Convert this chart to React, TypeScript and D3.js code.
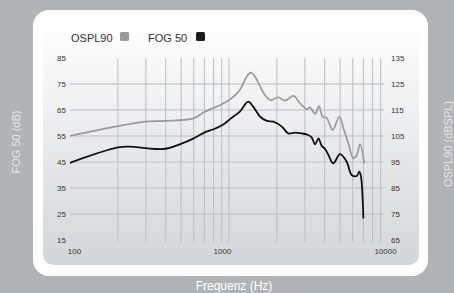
import React from 'react';
import * as d3 from 'd3';

// OSPL90 (right axis, dBSPL)
const osplFreq = [100, 200, 300, 400, 600, 700, 900, 1000, 1170, 1290, 1370, 1460, 1570, 1680, 1830, 2040, 2250, 2540, 2800, 3080, 3230, 3480, 3680, 3880, 4110, 4490, 4940, 5290, 5630, 6050, 6360, 6670, 7100];
const osplValues = [105, 108.8, 110.5, 110.8, 111.8, 114.2, 117.2, 118.8, 122.7, 127.8, 129.4, 127.8, 124, 120.8, 118.8, 119.9, 118.6, 120.4, 117.6, 115.3, 116, 113.5, 116.5, 112.4, 112, 107.3, 112.4, 107.3, 102.2, 96.4, 97.7, 101.8, 94.5];

// FOG 50 (left axis, dB)
const fogFreq = [100, 200, 240, 300, 400, 490, 600, 720, 800, 920, 1015, 1170, 1320, 1420, 1570, 1730, 1900, 2150, 2360, 2600, 2870, 3150, 3310, 3480, 3650, 3830, 4020, 4220, 4530, 4990, 5500, 5910, 6360, 6600, 6760, 7000];
const fogValues = [44.7, 50.6, 50.9, 50.3, 50.1, 51.8, 54.1, 56.7, 57.6, 59.4, 61.5, 64.4, 68.2, 66.3, 62.4, 60.8, 60.5, 58.6, 56, 56.3, 56, 55.4, 54.5, 51.8, 54.1, 51.2, 50, 47.7, 44.5, 48, 45.1, 40, 39.6, 41.3, 39.4, 23.3];

const leftTicks = [15, 25, 35, 45, 55, 65, 75, 85];
const rightTicks = [65, 75, 85, 95, 105, 115, 125, 135];
const freqLabels = [100, 1000, 10000];
const gridFreqs = [200, 300, 400, 500, 600, 700, 800, 900, 1000, 2000, 3000, 4000, 5000, 6000, 7000, 8000, 9000];
const hGridValues = [25, 35, 45, 55, 65, 75];

const font = '"Liberation Sans", Arial, Helvetica, sans-serif';

export default function App() {
  const W = 454, H = 293;
  const x = d3.scaleLog().domain([100, 10000]).range([70, 388]);
  const yL = d3.scaleLinear().domain([15, 85]).range([240, 58]);
  const yR = d3.scaleLinear().domain([65, 135]).range([240, 58]);

  const osplLine = d3.line<number>()
    .x((d, i) => x(osplFreq[i]))
    .y(d => yR(d))
    .curve(d3.curveCatmullRom.alpha(0.5));
  const fogLine = d3.line<number>()
    .x((d, i) => x(fogFreq[i]))
    .y(d => yL(d))
    .curve(d3.curveCatmullRom.alpha(0.5));

  return (
    <svg width={W} height={H} style={{ position: 'absolute', left: 0, top: 0 }} fontFamily={font}>
      <defs>
        <linearGradient id="panel" x1="0" y1="0" x2="0" y2="1">
          <stop offset="0" stopColor="#ffffff" />
          <stop offset="1" stopColor="#d4d5d8" />
        </linearGradient>
      </defs>
      <rect width={W} height={H} fill="#b2b3b6" />
      <rect x={33} y={10} width={395} height={266} rx={16} fill="#ffffff" />
      <rect x={43} y={20} width={376} height={245} rx={10} fill="url(#panel)" />

      {/* legend */}
      <text x={71} y={42} fontSize={11} fill="#333">OSPL90</text>
      <rect x={120} y={32} width={9} height={9} rx={1.5} fill="#9a9a9a" />
      <text x={148} y={42} fontSize={11} fill="#333">FOG 50</text>
      <rect x={196} y={32} width={9} height={9} rx={1.5} fill="#1a1a1a" />

      {/* grid */}
      <g stroke="#bcbdc0" strokeWidth={1}>
        {hGridValues.map(v => (
          <line key={'h' + v} x1={x(100)} x2={x(10000) - 4} y1={yL(v)} y2={yL(v)} />
        ))}
        {gridFreqs.map(f => (
          <line key={'v' + f} x1={x(f)} x2={x(f)} y1={yL(85)} y2={yL(15) + 2} />
        ))}
      </g>

      {/* axes labels */}
      <g fontSize={8} fill="#333">
        {leftTicks.map(v => (
          <text key={'l' + v} x={66} y={yL(v) + 3} textAnchor="end">{v}</text>
        ))}
        {rightTicks.map(v => (
          <text key={'r' + v} x={391} y={yR(v) + 3}>{v}</text>
        ))}
        {freqLabels.map((f, i) => (
          <text key={'f' + f} x={x(f) + (i === 0 ? 4.5 : i === 1 ? -6.5 : -2.5)} y={254} textAnchor="middle">{f}</text>
        ))}
      </g>

      {/* curves */}
      <path d={osplLine(osplValues) || ''} fill="none" stroke="#9a9a9a" strokeWidth={1.7} strokeLinejoin="round" />
      <path d={fogLine(fogValues) || ''} fill="none" stroke="#111" strokeWidth={1.8} strokeLinejoin="round" />

      {/* axis titles */}
      <text transform="translate(20,142) rotate(-90)" textAnchor="middle" fontSize={11} fill="#e6e7e8">FOG 50 (dB)</text>
      <text transform="translate(452,144) rotate(-90)" textAnchor="middle" fontSize={11} fill="#e6e7e8">OSPL90 (dBSPL)</text>
      <text x={234} y={290} textAnchor="middle" fontSize={12} fill="#ffffff">Frequenz (Hz)</text>
    </svg>
  );
}
